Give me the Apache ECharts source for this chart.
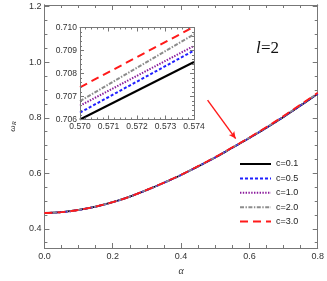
<!DOCTYPE html>
<html><head><meta charset="utf-8">
<script src="https://cdn.jsdelivr.net/npm/echarts@6/dist/echarts.min.js"></script>
<style>html,body{margin:0;padding:0;background:#fff}#c{width:327px;height:281px}</style>
</head><body><div id="c"></div>
<script>
var alpha = [0,0.05,0.1,0.15,0.2,0.25,0.3,0.35,0.4,0.45,0.5,0.55,0.6,0.65,0.7,0.75,0.8];
var c01 = [0.457,0.460,0.468,0.480,0.496,0.516,0.540,0.566,0.594,0.625,0.657,0.692,0.727,0.764,0.803,0.844,0.886];
var c05 = [0.457,0.460,0.468,0.480,0.496,0.516,0.540,0.566,0.594,0.625,0.6572,0.6923,0.7274,0.7645,0.8036,0.8447,0.8868];
var c10 = [0.457,0.460,0.468,0.480,0.496,0.516,0.540,0.566,0.5942,0.6253,0.6575,0.6926,0.7278,0.765,0.8042,0.8454,0.8876];
var c20 = [0.457,0.460,0.468,0.480,0.496,0.516,0.5402,0.5663,0.5944,0.6255,0.6578,0.6929,0.7282,0.7656,0.805,0.8463,0.8887];
var c30 = [0.457,0.460,0.468,0.480,0.496,0.5162,0.5404,0.5666,0.5948,0.6260,0.6584,0.6935,0.7289,0.7665,0.806,0.8476,0.890];
var insetAlpha = [0.570, 0.574];
var i01 = [0.7060, 0.7085];
var i05 = [0.7063, 0.7090];
var i10 = [0.7066, 0.7092];
var i20 = [0.7068, 0.7097];
var i30 = [0.7074, 0.71003];
var names = ['c=0.1','c=0.5','c=1.0','c=2.0','c=3.0'];
var yMajor = [0.4,0.6,0.8,1.0,1.2];
var yMinor = [0.35,0.45,0.5,0.55,0.65,0.7,0.75,0.85,0.9,0.95,1.05,1.1,1.15];

var styles = [
  {color:'#000000', type:'solid', width:1.8},
  {color:'#1f1fff', type:[3,2], width:1.8},
  {color:'#8a1a9c', type:[1.4,1.4], width:1.8},
  {color:'#8c8c8c', type:[4,1.5,1.4,1.5], width:1.8},
  {color:'#ff1a1a', type:[8,5], width:1.8}
];
var mainData = [c01,c05,c10,c20,c30];
var insetData = [i01,i05,i10,i20,i30];
function zip(xs, ys){ return xs.map(function(x,i){return [x, ys[i]];}); }

var axCol = '#777';
var lab = {fontFamily:'Liberation Sans', fontSize:9, color:'#333'};
var series = [];
mainData.forEach(function(d,k){
  var s = {name:names[k], type:'line', xAxisIndex:0, yAxisIndex:0, data:zip(alpha,d),
    smooth:0.4, symbol:'none', lineStyle:styles[k], itemStyle:{color:styles[k].color}, z:2+k, animation:false};
  if (k === 4) {
    s.markLine = {silent:true, symbol:['none','arrow'], symbolSize:[5,7], label:{show:false},
      lineStyle:{color:'#ff1a1a', type:'solid', width:1.4},
      data:[[{coord:[0.4775,0.8635]},{coord:[0.5597,0.725]}]]};
  }
  series.push(s);
});
insetData.forEach(function(d,k){
  var st = Object.assign({}, styles[k], {width:2});
  series.push({name:names[k], type:'line', xAxisIndex:2, yAxisIndex:4, data:zip(insetAlpha,d),
    symbol:'none', lineStyle:st, itemStyle:{color:styles[k].color}, z:20+k, animation:false});
});

function yAx(grid, pos, vals, len, labels){
  return {type:'value', gridIndex:grid, position:pos, min:0.331, max:1.206,
    axisLine:{show:true, lineStyle:{color:axCol, width:1}},
    axisTick:{show:true, inside:true, length:len, customValues:vals, lineStyle:{color:axCol}},
    axisLabel:{show:labels, customValues:vals, margin:3, formatter:function(v){return v.toFixed(1);}, fontFamily:lab.fontFamily, fontSize:lab.fontSize, color:lab.color},
    splitLine:{show:false}};
}
function xMain(pos, labels){
  return {type:'value', gridIndex:0, position:pos, min:0, max:0.8, interval:0.2,
    axisLine:{show:true, lineStyle:{color:axCol}},
    axisTick:{show:true, inside:true, length:5, lineStyle:{color:axCol}},
    minorTick:{show:true, splitNumber:4, length:3, lineStyle:{color:axCol}},
    axisLabel:{show:labels, margin:4, formatter:function(v){return v.toFixed(1);}, fontFamily:lab.fontFamily, fontSize:lab.fontSize, color:lab.color},
    splitLine:{show:false}, minorSplitLine:{show:false}};
}
function xIn(pos, labels){
  return {type:'value', gridIndex:1, position:pos, min:0.570, max:0.574, interval:0.001, z:30,
    axisLine:{show:true, lineStyle:{color:axCol}},
    axisTick:{show:true, inside:true, length:4, lineStyle:{color:axCol}},
    minorTick:{show:true, splitNumber:5, length:2, lineStyle:{color:axCol}},
    axisLabel:{show:labels, margin:3, formatter:function(v){return v.toFixed(3);}, fontFamily:lab.fontFamily, fontSize:8.5, color:lab.color},
    splitLine:{show:false}, minorSplitLine:{show:false}};
}
function yIn(pos, labels){
  return {type:'value', gridIndex:1, position:pos, min:0.706, max:0.710, interval:0.001, z:30,
    axisLine:{show:true, lineStyle:{color:axCol}},
    axisTick:{show:true, inside:true, length:4, lineStyle:{color:axCol}},
    minorTick:{show:true, splitNumber:5, length:2, lineStyle:{color:axCol}},
    axisLabel:{show:labels, margin:3, formatter:function(v){return v.toFixed(3);}, fontFamily:lab.fontFamily, fontSize:8.5, color:lab.color},
    splitLine:{show:false}, minorSplitLine:{show:false}};
}

var yLeft = yAx(0,'left',yMajor,5,true);
yLeft.name = '{w|ω}{s|R}';
yLeft.nameLocation = 'middle';
yLeft.nameRotate = 90;
yLeft.nameGap = 16;
yLeft.nameTextStyle = {rich:{w:{fontFamily:'Liberation Serif', fontStyle:'italic', fontSize:9, color:'#333'}, s:{fontFamily:'Liberation Serif', fontStyle:'italic', fontSize:6.5, color:'#333', padding:[4,0,0,0]}}};

var xBottom = xMain('bottom', true);
xBottom.name = 'α';
xBottom.nameLocation = 'middle';
xBottom.nameGap = 18;
xBottom.nameTextStyle = {fontFamily:'Liberation Serif', fontStyle:'italic', fontSize:10, color:'#333'};

var chart = echarts.init(document.getElementById('c'), null, {renderer:'canvas'});
chart.setOption({
  animation:false,
  backgroundColor:'#fff',
  grid:[
    {left:29, right:6, top:5, bottom:27.5, show:false},
    {left:80, top:27.5, width:114, height:92, show:true, backgroundColor:'#fff', borderWidth:0, z:5}
  ],
  xAxis:[xBottom, xMain('top', false), xIn('bottom', true), xIn('top', false)],
  yAxis:[yLeft, yAx(0,'left',yMinor,3,false), yAx(0,'right',yMajor,5,false), yAx(0,'right',yMinor,3,false), yIn('left', true), yIn('right', false)],
  legend:{data:names, orient:'vertical', left:234, top:154.5, itemWidth:31, itemHeight:10, itemGap:5.4,
    itemStyle:{opacity:0}, textStyle:{fontFamily:'Liberation Sans', fontSize:9, color:'#222'}, selectedMode:false},
  graphic:[
    {type:'text', left:256, top:40, z:50, style:{text:'l', fontFamily:'Liberation Serif', fontStyle:'italic', fontSize:17, fill:'#111'}},
    {type:'text', left:261, top:40, z:50, style:{text:'=2', fontFamily:'Liberation Serif', fontSize:17, fill:'#111'}}
  ],
  series:series
});
</script></body></html>
